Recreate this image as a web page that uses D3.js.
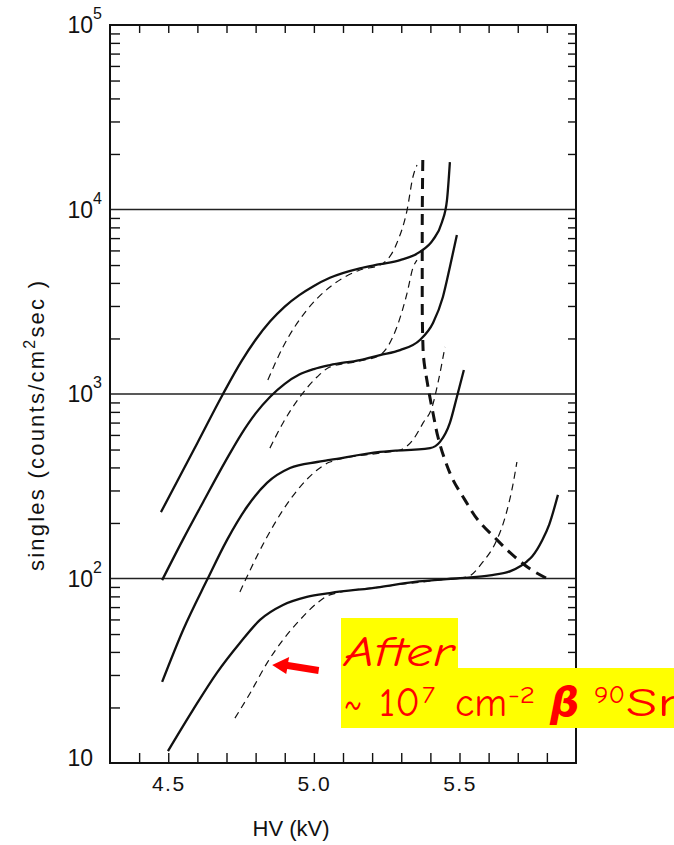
<!DOCTYPE html>
<html>
<head>
<meta charset="utf-8">
<script src="https://cdn.jsdelivr.net/npm/d3@7"></script>
<style>
  body { margin: 0; background: #fff; }
  svg { display: block; }
</style>
</head>
<body>
<script>
// Curves: HV in kV, singles rate in counts/cm2 sec
const hv1 = [4.475, 4.60, 4.688, 4.75, 4.80, 4.85, 4.90, 4.95, 5.00, 5.055, 5.158, 5.227, 5.296, 5.364, 5.409, 5.440, 5.457, 5.467];
const rate1 = [229, 543, 1000, 1493, 1968, 2477, 2979, 3436, 3855, 4266, 4800, 5050, 5320, 5890, 6840, 8560, 11250, 18070];
const hv1After = [4.842, 4.894, 4.976, 5.055, 5.158, 5.227, 5.285, 5.320, 5.340, 5.354];
const rate1After = [1191, 1799, 2851, 3802, 4699, 5000, 6577, 9931, 15000, 17420];

const hv2 = [4.479, 4.55, 4.62, 4.70, 4.75, 4.80, 4.85, 4.90, 4.95, 5.00, 5.055, 5.158, 5.227, 5.296, 5.364, 5.409, 5.443, 5.467, 5.491];
const rate2 = [98, 162, 260, 442, 603, 785, 966, 1135, 1274, 1365, 1435, 1528, 1626, 1730, 1963, 2427, 3357, 4875, 7278];
const hv2After = [4.849, 4.894, 4.952, 5.011, 5.055, 5.158, 5.227, 5.285, 5.320, 5.340, 5.354];
const rate2After = [509, 697, 964, 1236, 1400, 1510, 1626, 2307, 3524, 4820, 5321];

const hv3 = [4.479, 4.551, 4.633, 4.702, 4.770, 4.839, 4.918, 5.011, 5.055, 5.227, 5.399, 5.433, 5.467, 5.491, 5.515];
const rate3 = [27.5, 52.6, 98, 162, 244, 330, 397, 428, 439, 485, 509, 550, 697, 964, 1349];
const hv3After = [4.746, 4.781, 4.839, 4.894, 4.952, 5.011, 5.055, 5.227, 5.296, 5.340, 5.375, 5.406, 5.426, 5.450];
const rate3After = [84.5, 111, 168, 235, 313, 387, 428, 479, 497, 564, 697, 851, 1148, 1799];

const hv4 = [4.499, 4.585, 4.667, 4.746, 4.815, 4.894, 4.976, 5.055, 5.227, 5.340, 5.457, 5.530, 5.605, 5.677, 5.732, 5.750, 5.784, 5.808, 5.838];
const rate4 = [11.6, 19.4, 30.8, 44.7, 59.6, 71.8, 79.4, 83.4, 89.9, 95.7, 99.3, 101, 104, 110, 124, 132, 161, 196, 284];
const hv4After = [4.729, 4.781, 4.839, 4.894, 4.952, 5.011, 5.055, 5.227, 5.433, 5.526, 5.582, 5.626, 5.660, 5.684, 5.697];
const rate4After = [17.5, 23.9, 34.8, 46.5, 59.6, 73.6, 81.5, 89.9, 98.2, 101.9, 124, 159, 224, 326, 428];

// thick dashed falling curve
const hvFall = [5.374, 5.372, 5.372, 5.375, 5.392, 5.409, 5.426, 5.450, 5.478, 5.519, 5.564, 5.622, 5.690, 5.749, 5.804];
const rateFall = [18535, 7464, 3228, 1730, 1091, 789, 585, 439, 342, 266, 207, 166, 131, 111, 99.3];

// axis / tick data
const xTicks = [4.4, 4.5, 4.6, 4.7, 4.8, 4.9, 5.0, 5.1, 5.2, 5.3, 5.4, 5.5, 5.6, 5.7, 5.8];
const xTickLabels = ['4.5', '5.0', '5.5'];
const yDecades = [10, 100, 1000, 10000, 100000];
const yExponents = ['', '2', '3', '4', '5'];
const gridValues = [100, 1000, 10000];
const arrowTip = [4.85, 34];

const width = 674;
const height = 845;

const svg = d3.select('body')
    .append('svg')
    .attr('width', width)
    .attr('height', height);

const x = d3.scaleLinear().domain([4.3, 5.9]).range([110, 576]);
const y = d3.scaleLog().domain([10, 1e5]).range([763, 25]);

const minorTicks = [];
yDecades.slice(0, -1).forEach(d => {
    for (let k = 2; k <= 9; k++) minorTicks.push(d * k);
});

// gridlines
svg.selectAll('line.grid')
    .data(gridValues)
    .enter()
    .append('line')
    .attr('class', 'grid')
    .attr('x1', x(4.3))
    .attr('x2', x(5.9))
    .attr('y1', d => y(d))
    .attr('y2', d => y(d))
    .attr('stroke', '#222')
    .attr('stroke-width', 1.3);

// axes (ticks pointing inside)
const fmtX = d => {
    const s = d.toFixed(1);
    return xTickLabels.includes(s) ? s : '';
};
const gBottom = svg.append('g')
    .attr('transform', `translate(0,${y(10)})`)
    .call(d3.axisBottom(x).tickValues(xTicks).tickSizeInner(-10).tickSizeOuter(0).tickPadding(13).tickFormat(fmtX));
const gTop = svg.append('g')
    .attr('transform', `translate(0,${y(1e5)})`)
    .call(d3.axisTop(x).tickValues(xTicks).tickSizeInner(-8).tickSizeOuter(0).tickFormat(''));
const gLeft = svg.append('g')
    .attr('transform', `translate(${x(4.3)},0)`)
    .call(d3.axisLeft(y).tickValues(minorTicks).tickSizeInner(-10).tickSizeOuter(0).tickFormat(''));
const gRight = svg.append('g')
    .attr('transform', `translate(${x(5.9)},0)`)
    .call(d3.axisRight(y).tickValues(minorTicks).tickSizeInner(-8).tickSizeOuter(0).tickFormat(''));

[gBottom, gTop, gLeft, gRight].forEach(g => {
    g.select('.domain').remove();
    g.selectAll('.tick line').attr('stroke', '#111').attr('stroke-width', 1.4);
});
gBottom.selectAll('.tick text')
    .style('font-family', '"Liberation Sans", Arial, sans-serif')
    .style('font-size', '21px')
    .style('letter-spacing', '1.5px')
    .attr('fill', '#111');

// frame
svg.append('rect')
    .attr('x', x(4.3))
    .attr('y', y(1e5))
    .attr('width', x(5.9) - x(4.3))
    .attr('height', y(10) - y(1e5))
    .attr('fill', 'none')
    .attr('stroke', '#111')
    .attr('stroke-width', 2);

// decade labels
const yLab = svg.append('g')
    .style('font-family', '"Liberation Sans", Arial, sans-serif')
    .attr('fill', '#111');
yDecades.forEach((d, i) => {
    yLab.append('text')
        .attr('x', 93)
        .attr('y', y(d) + (i === 0 ? -5 : 0))
        .attr('dy', '0.36em')
        .attr('text-anchor', 'end')
        .style('font-size', '23px')
        .text('10');
    if (yExponents[i]) {
        yLab.append('text')
            .attr('x', 93)
            .attr('y', y(d) - 6)
            .style('font-size', '16px')
            .text(yExponents[i]);
    }
});

// axis titles
svg.append('text')
    .attr('x', 291)
    .attr('y', 836)
    .attr('text-anchor', 'middle')
    .style('font-family', '"Liberation Sans", Arial, sans-serif')
    .style('font-size', '22px')
    .attr('fill', '#111')
    .text('HV (kV)');

const yTitle = svg.append('text')
    .attr('transform', 'translate(44,571) rotate(-90)')
    .attr('textLength', 290)
    .attr('lengthAdjust', 'spacing')
    .style('font-family', '"Liberation Sans", Arial, sans-serif')
    .style('font-size', '22px')
    .attr('fill', '#111');
yTitle.append('tspan').text('singles (counts/cm');
yTitle.append('tspan').attr('dy', -9).style('font-size', '16px').text('2');
yTitle.append('tspan').attr('dy', 9).text('sec )');

// curves
const lineX = d3.line()
    .x(d => x(d[0]))
    .y(d => y(d[1]))
    .curve(d3.curveMonotoneX);
const lineY = d3.line()
    .x(d => x(d[0]))
    .y(d => y(d[1]))
    .curve(d3.curveMonotoneY);

const series = [
    { hv: hv1, rate: rate1, kind: 'solid' },
    { hv: hv2, rate: rate2, kind: 'solid' },
    { hv: hv3, rate: rate3, kind: 'solid' },
    { hv: hv4, rate: rate4, kind: 'solid' },
    { hv: hv1After, rate: rate1After, kind: 'thin' },
    { hv: hv2After, rate: rate2After, kind: 'thin' },
    { hv: hv3After, rate: rate3After, kind: 'thin' },
    { hv: hv4After, rate: rate4After, kind: 'thin' },
    { hv: hvFall, rate: rateFall, kind: 'thick' }
];
const styles = {
    solid: { w: 2.3, dash: null },
    thin: { w: 1.2, dash: '7,5' },
    thick: { w: 3, dash: '11,7' }
};

svg.selectAll('path.curve')
    .data(series)
    .enter()
    .append('path')
    .attr('class', 'curve')
    .attr('d', s => {
        const pts = s.hv.map((v, i) => [v, s.rate[i]]);
        return s.kind === 'thick' ? lineY(pts) : lineX(pts);
    })
    .attr('fill', 'none')
    .attr('stroke', '#111')
    .attr('stroke-width', s => styles[s.kind].w)
    .attr('stroke-dasharray', s => styles[s.kind].dash);

// annotation
const tipX = x(arrowTip[0]) + 2;
const tipY = y(arrowTip[1]);
svg.append('path')
    .attr('d', `M${tipX},${tipY} l17,-8 l-1,5 l31,5 l-1,7 l-31,-5 l-1,5 z`)
    .attr('fill', '#ff0000');

svg.append('rect').attr('x', 341).attr('y', 618).attr('width', 117).attr('height', 52).attr('fill', '#ffff00');
svg.append('rect').attr('x', 341).attr('y', 668).attr('width', 333).attr('height', 60).attr('fill', '#ffff00');

const note = svg.append('g')
    .style('font-family', '"Comic Sans MS", "Comic Neue", "DejaVu Sans", sans-serif')
    .attr('fill', '#ff0000');
note.append('text')
    .attr('x', 344)
    .attr('y', 666)
    .attr('textLength', 110)
    .attr('lengthAdjust', 'spacingAndGlyphs')
    .style('font-size', '42px')
    .style('font-style', 'italic')
    .text('After');

const big = '41px';
const small = '24px';
const pieces = [
    { t: '~', x: 344, base: true, len: 18 },
    { t: '10', x: 379, base: true, len: 41 },
    { t: '7', x: 422, base: false, len: 13 },
    { t: 'cm', x: 455, base: true, len: 52 },
    { t: '-2', x: 508, base: false, len: 27 },
    { t: '90', x: 594, base: false, len: 31 },
    { t: 'Sr', x: 626, base: true, len: 54 }
];
pieces.forEach(p => {
    note.append('text')
        .attr('x', p.x)
        .attr('y', p.base ? 716 : 703)
        .attr('textLength', p.len)
        .attr('lengthAdjust', 'spacingAndGlyphs')
        .style('font-size', p.base ? big : small)
        .text(p.t);
});
note.append('text').attr('x', 550).attr('y', 716).style('font-size', big)
    .style('font-weight', 'bold').style('font-style', 'italic').text('β');
</script>
</body>
</html>
